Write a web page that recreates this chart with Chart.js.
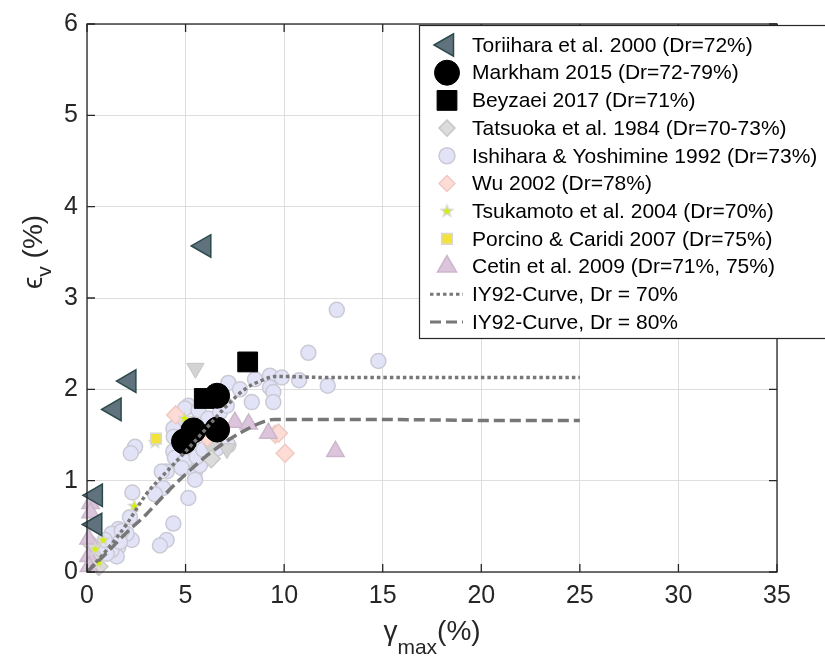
<!DOCTYPE html>
<html>
<head>
<meta charset="utf-8">
<script src="https://cdn.jsdelivr.net/npm/chart.js@4.4.1/dist/chart.umd.min.js"></script>
<style>
  html, body { margin: 0; padding: 0; background: #fff; }
  #wrap { width: 825px; height: 670px; position: relative; }
</style>
</head>
<body>
<div id="wrap"><canvas id="myChart"></canvas></div>
<script>
  // data, [gamma_max %, eps_v %]
  const toriihara = [[5.95, 3.57], [2.15, 2.09], [1.4, 1.78], [0.45, 0.84], [0.42, 0.52]];
  const markham = [[4.92, 1.43], [5.4, 1.55], [6.6, 1.56], [6.6, 1.93]];
  const beyzaei = [[8.15, 2.30], [5.95, 1.90]];
  const tatsuoka = [[6.3, 1.24], [0.35, 0.12], [0.6, 0.06], [0.25, 0.3]];
  const tatsuokaTri = [[5.5, 2.23], [6.3, 1.37], [7.1, 1.35]];
  const ishihara = [
    [12.67, 2.87], [11.23, 2.40], [14.78, 2.31], [9.28, 2.15], [9.88, 2.13], [10.76, 2.10],
    [12.21, 2.04], [9.28, 2.02], [9.45, 1.97], [9.45, 1.86], [8.52, 2.11], [7.17, 2.07],
    [7.76, 2.0], [8.36, 1.86], [5.14, 1.82], [4.97, 1.79], [5.65, 1.77], [6.24, 1.89],
    [6.15, 1.68], [6.75, 1.75], [7.09, 1.82], [4.63, 1.64], [4.38, 1.57], [4.4, 1.48],
    [4.55, 1.35], [4.38, 1.32], [4.46, 1.25], [4.97, 1.21], [4.8, 1.14], [5.48, 1.10],
    [5.73, 1.17], [5.56, 1.26], [5.9, 1.34], [6.58, 1.35], [7.17, 1.39], [4.04, 1.10],
    [3.79, 1.10], [3.87, 0.92], [3.45, 0.85], [5.48, 1.01], [5.14, 0.81], [2.44, 1.37],
    [2.22, 1.30], [2.3, 0.87], [2.18, 0.60], [4.38, 0.53], [4.04, 0.35], [3.7, 0.29],
    [1.59, 0.47], [1.59, 0.27], [1.51, 0.17], [2.27, 0.35], [1.25, 0.24], [1.0, 0.20],
    [2.01, 0.42], [1.25, 0.42], [1.76, 0.45], [0.66, 0.27], [0.91, 0.35], [0.32, 0.17],
    [1.67, 0.33], [5.3, 1.62]
  ];
  const wu = [[4.5, 1.72], [9.55, 1.51], [9.71, 1.52], [10.05, 1.30], [6.1, 1.47]];
  const tsukamoto = [[4.95, 1.68], [2.4, 0.72], [0.82, 0.35], [0.42, 0.25], [3.45, 1.42], [0.6, 0.1]];
  const porcino = [[3.5, 1.46]];
  const cetin = [[7.5, 1.64], [8.2, 1.62], [9.2, 1.52], [12.6, 1.32], [0.18, 0.75], [0.18, 0.65],
    [0.08, 0.36], [0.08, 0.17], [0.1, 0.06]];

  const curveX = [0, 1, 2, 3, 4, 5, 6, 7, 8, 9, 9.5, 10, 12, 15, 20, 25];
  const iy70 = [0, 0.24, 0.52, 0.85, 1.09, 1.32, 1.56, 1.80, 2.0, 2.11, 2.14, 2.14, 2.13, 2.13, 2.13, 2.13];
  const iy80 = [0, 0.21, 0.43, 0.63, 0.86, 1.07, 1.26, 1.42, 1.55, 1.65, 1.67, 1.67, 1.67, 1.67, 1.66, 1.66];

  const xTicks = [0, 5, 10, 15, 20, 25, 30, 35];
  const yTicks = [0, 1, 2, 3, 4, 5, 6];

  const FONT = "'Liberation Sans', Arial, sans-serif";
  const AX = "#262626";

  const pts = (arr) => arr.map(([x, y]) => ({ x, y }));
  const curve = (ys) => curveX.map((x, i) => ({ x, y: ys[i] }));

  // filled star marker (gray rim, yellow-green centre)
  function starImg(size) {
    const c = document.createElement("canvas");
    c.width = c.height = size;
    const g = c.getContext("2d");
    const path = (R) => {
      g.beginPath();
      for (let i = 0; i < 10; i++) {
        const r = i % 2 ? R * 0.42 : R;
        const a = -Math.PI / 2 + i * Math.PI / 5;
        g.lineTo(size / 2 + r * Math.cos(a), size / 2 + r * Math.sin(a));
      }
      g.closePath();
    };
    path(size / 2 - 0.5); g.fillStyle = "#d6d6d6"; g.fill();
    path(size / 4); g.fillStyle = "#d4f000"; g.fill();
    return c;
  }
  const star = starImg(17);

  const datasets = [
    { label: "Toriihara et al. 2000 (Dr=72%)", data: pts(toriihara), pointStyle: "triangle", rotation: -90,
      pointRadius: 13, backgroundColor: "#5f727d", borderColor: "#2c4a4a", borderWidth: 1.5, order: 0 },
    { label: "Markham 2015 (Dr=72-79%)", data: pts(markham), pointStyle: "circle", pointRadius: 12.5,
      backgroundColor: "#000", borderColor: "#000", borderWidth: 1, order: 3 },
    { label: "Beyzaei 2017 (Dr=71%)", data: pts(beyzaei), pointStyle: "rect", pointRadius: 14,
      backgroundColor: "#000", borderColor: "#000", borderWidth: 1, order: 2 },
    { label: "Tatsuoka et al. 1984 (Dr=70-73%)", data: pts(tatsuoka), pointStyle: "rectRot", pointRadius: 9,
      backgroundColor: "#dcdcdc", borderColor: "#c8c8c8", borderWidth: 1.5, order: 8 },
    { label: "Ishihara & Yoshimine 1992 (Dr=73%)", data: pts(ishihara), pointStyle: "circle", pointRadius: 7.5,
      backgroundColor: "#e3e3f7", borderColor: "#cacad6", borderWidth: 1.5, order: 9 },
    { label: "Wu 2002 (Dr=78%)", data: pts(wu), pointStyle: "rectRot", pointRadius: 9,
      backgroundColor: "#fcdcd5", borderColor: "#f0c9c2", borderWidth: 1.5, order: 7 },
    { label: "Tsukamoto et al. 2004 (Dr=70%)", data: pts(tsukamoto), pointStyle: star, pointRadius: 8,
      backgroundColor: "#d4f000", borderColor: "#d6d6d6", borderWidth: 0, order: 5 },
    { label: "Porcino & Caridi 2007 (Dr=75%)", data: pts(porcino), pointStyle: "rect", pointRadius: 7.5,
      backgroundColor: "#f3e23a", borderColor: "#d8d8d8", borderWidth: 1.5, order: 4 },
    { label: "Cetin et al. 2009 (Dr=71%, 75%)", data: pts(cetin), pointStyle: "triangle", pointRadius: 10,
      backgroundColor: "#dcc5dc", borderColor: "#cbb6cb", borderWidth: 1.5, order: 6 },
    { label: "IY92-Curve, Dr = 70%", type: "line", data: curve(iy70), borderColor: "#777777",
      borderWidth: 3.5, borderDash: [3.5, 3], pointRadius: 0, cubicInterpolationMode: "monotone", order: 1 },
    { label: "IY92-Curve, Dr = 80%", type: "line", data: curve(iy80), borderColor: "#777777",
      borderWidth: 3.5, borderDash: [11, 5], pointRadius: 0, cubicInterpolationMode: "monotone", order: 1 },
    { label: "", noLegend: true, data: pts(tatsuokaTri), pointStyle: "triangle", rotation: 180, pointRadius: 10,
      backgroundColor: "#d3d3d3", borderColor: "#c4c4c4", borderWidth: 1, order: 8 },
  ];

  const decor = {
    id: "decor",
    afterDatasetsDraw(chart) {
      const { ctx, chartArea: a, scales } = chart;
      ctx.save();
      ctx.strokeStyle = AX;
      ctx.lineWidth = 1.3;
      ctx.strokeRect(a.left, a.top, a.right - a.left, a.bottom - a.top);
      ctx.beginPath();
      xTicks.forEach((v) => {
        const px = scales.x.getPixelForValue(v);
        ctx.moveTo(px, a.bottom); ctx.lineTo(px, a.bottom - 8);
        ctx.moveTo(px, a.top); ctx.lineTo(px, a.top + 8);
      });
      yTicks.forEach((v) => {
        const py = scales.y.getPixelForValue(v);
        ctx.moveTo(a.left, py); ctx.lineTo(a.left + 8, py);
        ctx.moveTo(a.right, py); ctx.lineTo(a.right - 8, py);
      });
      ctx.stroke();
      ctx.restore();
    },
    afterDraw(chart) {
      const { ctx, chartArea: a } = chart;
      ctx.save();
      ctx.fillStyle = AX;
      ctx.textBaseline = "alphabetic";
      ctx.textAlign = "left";

      // x title: gamma_max(%)
      const big = "28px " + FONT, small = "21px " + FONT;
      ctx.font = big; const wg = ctx.measureText("γ").width; const wp = ctx.measureText("(%)").width;
      ctx.font = small; const wm = ctx.measureText("max").width;
      let x0 = (a.left + a.right) / 2 - (wg + wm + wp) / 2;
      ctx.font = big; ctx.fillText("γ", x0, 640);
      ctx.font = small; ctx.fillText("max", x0 + wg, 654);
      ctx.font = big; ctx.fillText("(%)", x0 + wg + wm, 640);

      // y title: eps_v (%)
      ctx.translate(42, 252);
      ctx.rotate(-Math.PI / 2);
      ctx.font = big; const we = ctx.measureText("ϵ").width; const wp2 = ctx.measureText(" (%)").width;
      ctx.font = small; const wv = ctx.measureText("v").width;
      let y0 = -(we + wv + wp2) / 2;
      ctx.font = big; ctx.fillText("ϵ", y0, 0);
      ctx.font = small; ctx.fillText("v", y0 + we, 9);
      ctx.font = big; ctx.fillText(" (%)", y0 + we + wv, 0);
      ctx.restore();

      // legend box
      ctx.save();
      const L = 419.5, T = 25.5, B = 338.5;
      ctx.fillStyle = "#fff";
      ctx.fillRect(L, T, 420, B - T);
      ctx.strokeStyle = AX;
      ctx.lineWidth = 1.2;
      ctx.strokeRect(L, T, 420, B - T);
      ctx.font = "21px " + FONT;
      ctx.textBaseline = "middle";
      ctx.textAlign = "left";
      let row = 0;
      chart.data.datasets.forEach((ds) => {
        if (ds.noLegend) return;
        const cy = 45 + row * 27.7;
        const mx = 447;
        if (ds.type === "line") {
          ctx.save();
          ctx.strokeStyle = ds.borderColor;
          ctx.lineWidth = 3;
          ctx.setLineDash(ds.borderDash);
          ctx.beginPath(); ctx.moveTo(430, cy); ctx.lineTo(463, cy); ctx.stroke();
          ctx.restore();
        } else {
          ctx.save();
          ctx.fillStyle = ds.backgroundColor;
          ctx.strokeStyle = ds.borderColor;
          ctx.lineWidth = ds.borderWidth;
          let r = ds.pointRadius;
          if (ds.pointStyle === "rectRot" || ds.pointStyle === "circle" && r < 10) r = 8;
          if (ds.pointStyle === "triangle" && ds.rotation !== -90) r = 11;
          Chart.helpers.drawPoint(ctx, { pointStyle: ds.pointStyle, radius: r, rotation: ds.rotation || 0,
            borderWidth: ds.borderWidth }, mx, cy);
          ctx.restore();
        }
        ctx.fillStyle = "#000";
        ctx.fillText(ds.label, 472, cy + 1);
        row++;
      });
      ctx.restore();
    },
  };

  const ctx = document.getElementById("myChart").getContext("2d");
  new Chart(ctx, {
    type: "scatter",
    data: { datasets },
    options: {
      responsive: true,
      maintainAspectRatio: false,
      animation: false,
      layout: { padding: { left: 0, right: 48, top: 16, bottom: 0 } },
      plugins: { legend: { display: false }, tooltip: { enabled: false } },
      datasets: { scatter: { clip: false } },
      scales: {
        x: {
          type: "linear", min: 0, max: 35,
          afterBuildTicks: (s) => { s.ticks = xTicks.map((v) => ({ value: v })); },
          afterFit: (s) => { s.height = 98; },
          grid: { color: "#dedede", lineWidth: 1, drawTicks: false },
          border: { display: false },
          ticks: { color: AX, padding: 9, font: { family: FONT, size: 25 } },
        },
        y: {
          type: "linear", min: 0, max: 6,
          afterBuildTicks: (s) => { s.ticks = yTicks.map((v) => ({ value: v })); },
          afterFit: (s) => { s.width = 87; },
          grid: { color: "#dedede", lineWidth: 1, drawTicks: false },
          border: { display: false },
          ticks: { color: AX, padding: 9, font: { family: FONT, size: 25 } },
        },
      },
    },
    plugins: [decor],
  });
</script>
</body>
</html>
